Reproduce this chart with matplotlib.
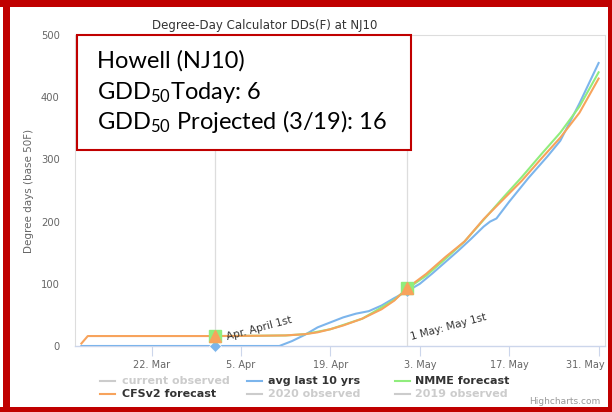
import matplotlib
matplotlib.use("Agg")
import matplotlib.pyplot as plt
import matplotlib.transforms as mtransforms
from matplotlib.lines import Line2D
from matplotlib.patches import Rectangle
import datetime as dt

# ---------------- data ----------------
title = "Degree-Day Calculator DDs(F) at NJ10"
ylabel = "Degree days (base 50F)"

avg_dates = ["2021-03-11", "2021-04-11", "2021-04-13", "2021-04-15", "2021-04-17", "2021-04-19",
             "2021-04-21", "2021-04-23", "2021-04-25", "2021-04-27", "2021-04-29", "2021-05-01",
             "2021-05-03", "2021-05-05", "2021-05-07", "2021-05-09", "2021-05-11", "2021-05-13",
             "2021-05-14", "2021-05-15", "2021-05-17", "2021-05-20", "2021-05-23", "2021-05-25",
             "2021-05-26", "2021-05-28", "2021-05-31"]
avg_vals = [0, 0, 8, 18, 30, 38, 46, 52, 56, 65, 77, 88, 100, 117, 135, 153, 172, 192,
            200, 205, 232, 270, 305, 330, 350, 390, 455]

cfs_dates = ["2021-03-11", "2021-03-12", "2021-04-01", "2021-04-08", "2021-04-12", "2021-04-15",
             "2021-04-17", "2021-04-19", "2021-04-21", "2021-04-24", "2021-04-27", "2021-04-29",
             "2021-05-01", "2021-05-04", "2021-05-07", "2021-05-10", "2021-05-13", "2021-05-16",
             "2021-05-19", "2021-05-22", "2021-05-25", "2021-05-28", "2021-05-31"]
cfs_vals = [4, 16, 16, 16.5, 17, 19, 22, 27, 33, 44, 59, 73, 93, 116, 143, 168, 204, 235,
            266, 301, 335, 375, 430]

nmme_dates = ["2021-04-01", "2021-04-08", "2021-04-12", "2021-04-15", "2021-04-19", "2021-04-24",
              "2021-04-29", "2021-05-01", "2021-05-04", "2021-05-07", "2021-05-10", "2021-05-13",
              "2021-05-16", "2021-05-19", "2021-05-22", "2021-05-25", "2021-05-28", "2021-05-31"]
nmme_vals = [16, 16.5, 17, 19, 27, 44, 74, 92, 113, 140, 168, 203, 238, 272, 308, 343, 385, 440]

marker_dates = ["2021-04-01", "2021-05-01"]
marker_nmme = [16, 93]
marker_cfs = [16, 93]
marker_avg = [0, 88]

plotline_dates = ["2021-04-01", "2021-05-01"]
plotline_labels = ["Apr. April 1st", "1 May: May 1st"]

yticks = [0, 100, 200, 300, 400, 500]
xtick_dates = ["2021-03-22", "2021-04-05", "2021-04-19", "2021-05-03", "2021-05-17", "2021-05-31"]
xtick_labels = ["22. Mar", "5. Apr", "19. Apr", "3. May", "17. May", "31. May"]

legend_row1 = ["current observed", "avg last 10 yrs", "NMME forecast"]
legend_row2 = ["CFSv2 forecast", "2020 observed", "2019 observed"]

box_lines = ["Howell (NJ10)", r"GDD$_{50}$Today: 6", r"GDD$_{50}$ Projected (3/19): 16"]

# ---------------- styling ----------------
BLUE, ORANGE, GREEN, GRAY = "#7cb5ec", "#f7a35c", "#90ed7d", "#cccccc"
RED = "#c00000"

plt.rcParams["mathtext.fontset"] = "custom"
plt.rcParams["mathtext.rm"] = "Lato"
plt.rcParams["mathtext.it"] = "Lato"
plt.rcParams["mathtext.bf"] = "Lato:bold"


def d(s):
    return dt.datetime.strptime(s, "%Y-%m-%d")


W, H = 612, 412
fig = plt.figure(figsize=(W / 100, H / 100), dpi=100)
fig.patch.set_facecolor("white")


def fx(x):
    return x / W


def fy(y):
    return 1 - y / H


L, R, T, B = 75, 605, 35, 346
ax = fig.add_axes([fx(L), fy(B), (R - L) / W, (B - T) / H])

ax.set_xlim(d("2021-03-10"), d("2021-06-01"))
ax.set_ylim(0, 500)

for s in ["left", "top", "right"]:
    ax.spines[s].set_color("#dddddd")
    ax.spines[s].set_linewidth(0.8)
ax.spines["bottom"].set_color("#ccd6eb")
ax.spines["bottom"].set_linewidth(1)

ax.set_yticks(yticks)
ax.set_yticklabels([str(v) for v in yticks])
ax.tick_params(axis="y", length=0, pad=11, labelsize=7.2, labelcolor="#666666")
ax.set_xticks([d(s) for s in xtick_dates])
ax.set_xticklabels(xtick_labels)
ax.tick_params(axis="x", length=7, width=0.8, color="#ccd6eb", pad=3,
               labelsize=7, labelcolor="#666666")
ax.set_ylabel(ylabel, fontsize=7.5, color="#666666", labelpad=5)

# last x label justified to the plot's right edge (as Highcharts does)
last = ax.get_xticklabels()[-1]
last.set_horizontalalignment("right")
last.set_transform(last.get_transform() +
                   mtransforms.ScaledTranslation(6 / 100, 0, fig.dpi_scale_trans))

# plot lines
for ds in plotline_dates:
    ax.axvline(d(ds), color="#dddddd", lw=0.9, zorder=1)

# series
ax.plot([d(s) for s in avg_dates], avg_vals, color=BLUE, lw=1.5, zorder=3)
ax.plot([d(s) for s in nmme_dates], nmme_vals, color=GREEN, lw=1.5, zorder=4)
ax.plot([d(s) for s in cfs_dates], cfs_vals, color=ORANGE, lw=1.5, zorder=5)

md = [d(s) for s in marker_dates]
ax.plot(md, marker_avg, "D", color=BLUE, ms=6, mec="white", mew=0.5, ls="none", zorder=6, clip_on=False)
ax.plot(md, marker_nmme, "s", color=GREEN, ms=8, ls="none", zorder=7)
ax.plot(md, marker_cfs, "^", color=ORANGE, ms=9, ls="none", zorder=8)

# plot line labels
for ds, lab in zip(plotline_dates, plotline_labels):
    off = (8.5, 4.5) if lab.startswith("Apr") else (3, 4.5)
    ax.annotate(lab, xy=(d(ds), 0), xytext=off, textcoords="offset points",
                rotation=15, rotation_mode="anchor", ha="left", va="baseline",
                fontsize=7.5, color="#333333", zorder=9)

# title
fig.text(fx(265), fy(25), title, ha="center", va="center", fontsize=8.5, color="#333333")

# overlay text box
fig.add_artist(Rectangle((fx(77), fy(150)), (411 - 77) / W, (150 - 35) / H,
                         transform=fig.transFigure, facecolor="white", edgecolor=RED,
                         lw=1.5, zorder=10))
for i, (txt, base) in enumerate(zip(box_lines, [68, 99, 129])):
    fig.text(fx(97), fy(base), txt, ha="left", va="baseline", fontsize=17,
             family=["Lato", "DejaVu Sans"], color="black", zorder=11)

# legend (drawn manually)
cols_sym = [(100, 115), (247, 262), (395, 410)]
cols_txt = [122, 268, 415]
row_y = [381, 394]
row1_colors = [GRAY, BLUE, GREEN]
row1_text = ["#cccccc", "#333333", "#333333"]
row2_colors = [ORANGE, GRAY, GRAY]
row2_text = ["#333333", "#cccccc", "#cccccc"]
for labels, colors, tcols, yy in [(legend_row1, row1_colors, row1_text, row_y[0]),
                                  (legend_row2, row2_colors, row2_text, row_y[1])]:
    for (x0, x1), xt, lab, c, tc in zip(cols_sym, cols_txt, labels, colors, tcols):
        fig.add_artist(Line2D([fx(x0), fx(x1)], [fy(yy), fy(yy)], transform=fig.transFigure,
                              color=c, lw=1.5))
        fig.text(fx(xt), fy(yy), lab, ha="left", va="center", fontsize=8,
                 fontweight="bold", color=tc)

fig.text(fx(600), fy(402), "Highcharts.com", ha="right", va="center", fontsize=6.5, color="#999999")

# red frame
for (x, y, w, h) in [(3, 0, 7, H), (0, 0, W, 7), (608, 0, 4, H), (0, 407, W, 5)]:
    fig.add_artist(Rectangle((fx(x), fy(y + h)), w / W, h / H, transform=fig.transFigure,
                             facecolor=RED, edgecolor="none", zorder=20))

fig.savefig("out.png", dpi=100)
